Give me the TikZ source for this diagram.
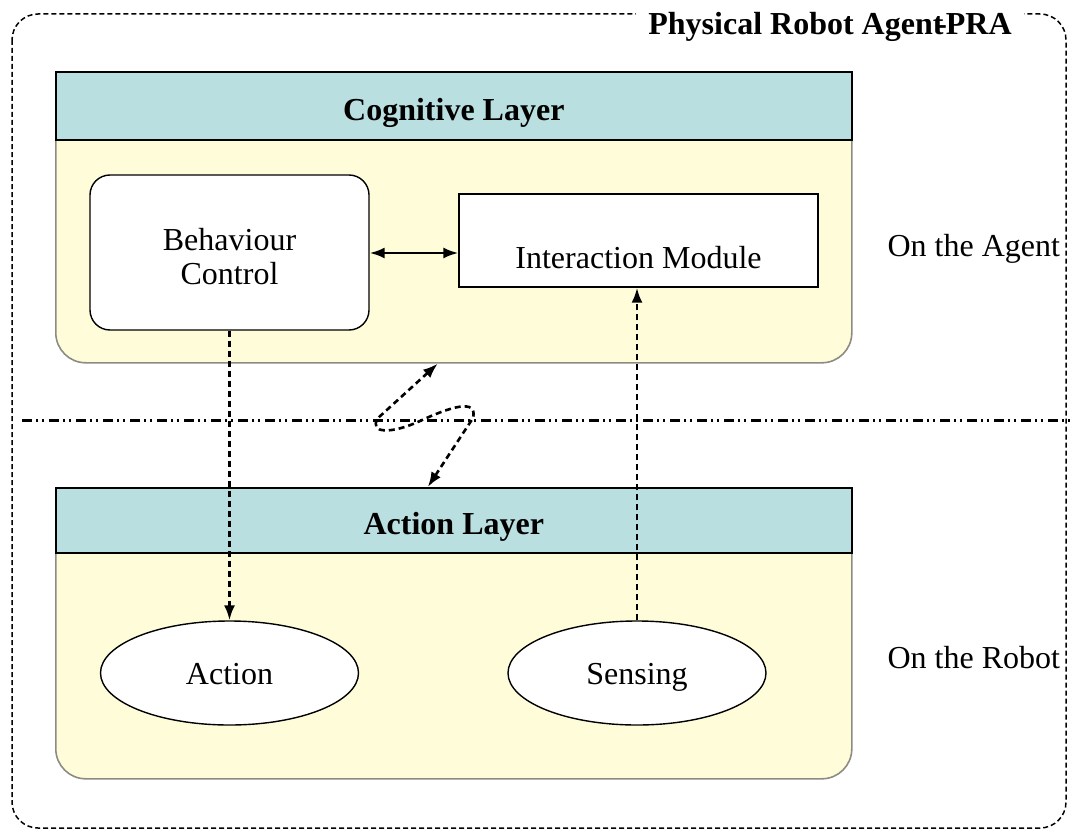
\documentclass[tikz,border=0pt]{standalone}
\usepackage{fontspec}
\setmainfont{Liberation Serif}
\usetikzlibrary{arrows.meta,shapes.geometric,calc}
\definecolor{hdrteal}{HTML}{B9DFE1}
\definecolor{bodyylw}{HTML}{FFFDD9}
\definecolor{bodyedge}{HTML}{8C8C84}
\tikzset{
  txt/.style={font=\fontsize{32}{34}\selectfont},
  hdr/.style={draw=black, line width=1.6, fill=hdrteal, minimum width=796,
    anchor=north west, inner sep=0, text height=36pt, text depth=7pt,
    font=\fontsize{32}{34}\selectfont\bfseries},
  layerbody/.style={draw=bodyedge, line width=1.6, fill=bodyylw, rounded corners=30,
    minimum width=796, anchor=north west, inner sep=0},
  module/.style={draw=black, line width=1.4, fill=white, inner sep=0, txt},
  unit/.style={ellipse, draw=black, line width=1.4, fill=white, minimum width=258,
    minimum height=104, inner sep=0, text height=30pt, text depth=7pt, txt},
  flow/.style={line width=2.6, dash pattern=on 6pt off 4pt},
  frame/.style={line width=1.5, dash pattern=on 5pt off 3pt, rounded corners=26},
  divider/.style={line width=3,
    dash pattern=on 10pt off 4pt on 2pt off 4pt on 2pt off 5pt},
}
\begin{document}
\begin{tikzpicture}[x=1pt, y=-1pt, >={Latex[length=15pt,width=11pt]}]
\useasboundingbox (0,0) rectangle (1070,832);

% outer agent frame with its title
\draw[frame] (12,14) rectangle (1066,828);
\node[txt, fill=white, inner xsep=12, inner ysep=4, font=\fontsize{32}{34}\selectfont\bfseries]
  (title) at (830,27) {Physical Robot Agent\kern-.22em-\kern-.04em PRA};

% boundary between agent and robot
\draw[divider] (22,420) -- (1070,420);

% cognitive layer
\node[layerbody, minimum height=262] (cogbody) at (55,100) {};
\node[hdr, minimum height=68] (coghead) at (55,71) {Cognitive Layer};
\node[module, rounded corners=20, minimum width=279, minimum height=155,
  label={[txt, align=center, yshift=-4pt]center:Behaviour\\Control}] (bc) at (229.5,252.5) {};
\node[module, minimum width=359, minimum height=93,
  label={[txt, yshift=-17pt]center:Interaction Module}] (im) at (638.5,240.5) {};

% action layer
\node[layerbody, minimum height=258] (actbody) at (55,520) {};
\node[hdr, minimum height=65] (acthead) at (55,487) {Action Layer};
\node[unit] (act) at (229.5,673) {Action};
\node[unit] (sens) at (637,673) {Sensing};

% side labels
\node[txt, anchor=west] (onagent) at (884,249) {On the Agent};
\node[txt, anchor=west] (onrobot) at (884,658) {On the Robot};

% connectors
\draw[line width=2.4, <->] (bc.east |- 0,253) -- (im.west |- 0,253);
\draw[flow, ->] (bc.south) -- (act.north);
\draw[flow, ->] (sens.north) -- (sens.north |- im.south);
\draw[flow, <->] ($(cogbody.south)+(-16,0)$) -- (378,418)
  .. controls (368,434) and (392,434) .. (420,421)
  .. controls (450,407) and (478,398) .. (473,418)
  -- ($(acthead.north)+(-26,0)$);
\end{tikzpicture}
\end{document}
